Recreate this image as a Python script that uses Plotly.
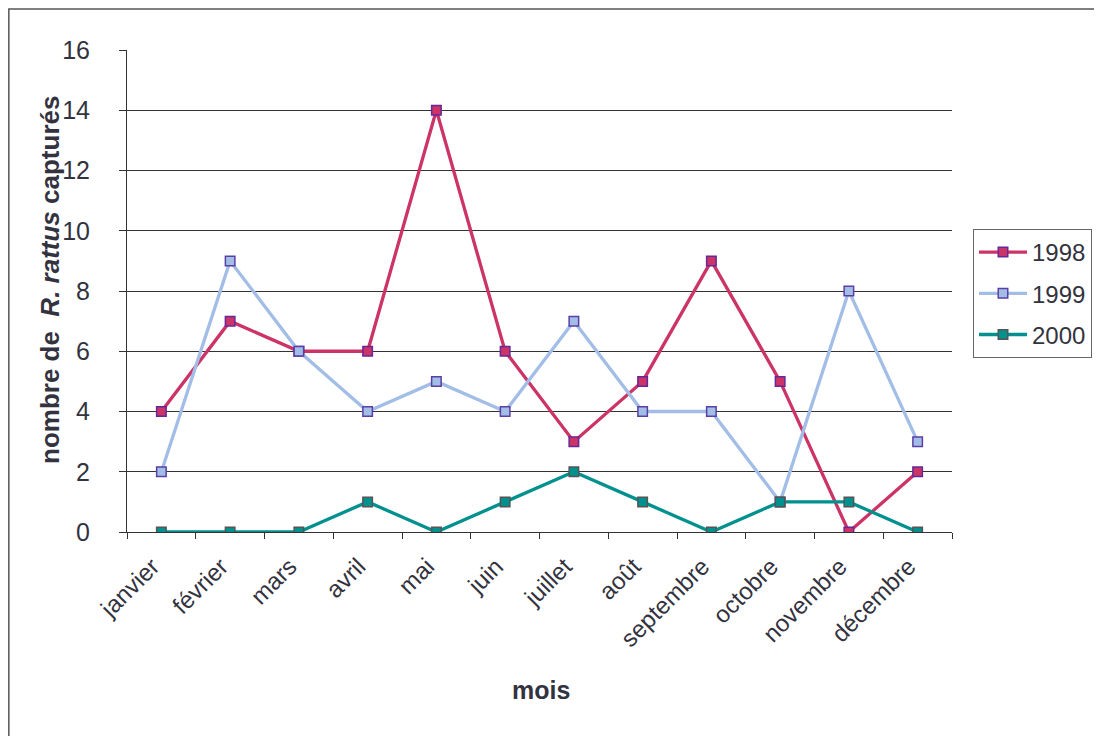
import plotly.graph_objects as go

mois = ["janvier", "février", "mars", "avril", "mai", "juin", "juillet",
        "août", "septembre", "octobre", "novembre", "décembre"]
y1998 = [4, 7, 6, 6, 14, 6, 3, 5, 9, 5, 0, 2]
y1999 = [2, 9, 6, 4, 5, 4, 7, 4, 4, 1, 8, 3]
y2000 = [0, 0, 0, 1, 0, 1, 2, 1, 0, 1, 1, 0]

series = [
    ("1998", y1998, "#CC3366", "#CC3366", "#66279A"),
    ("1999", y1999, "#A3BEE6", "#A3BEE6", "#5B3FA6"),
    ("2000", y2000, "#00918F", "#00918F", "#555555"),
]

fig = go.Figure()
for name, ys, lc, mfill, mline in series:
    fig.add_trace(go.Scatter(
        x=mois, y=ys, name=name, mode="lines+markers", legendgroup=name,
        line=dict(color=lc, width=3.3),
        marker=dict(symbol="square", size=9.5, color=mfill,
                    line=dict(color=mline, width=1.5)),
    ))

font_color = "#333340"
fam = "Liberation Sans, Arial, sans-serif"
W, H = 1094, 728
L, R, T, B = 119, 150, 42, 204
pw, ph = W - L - R, H - T - B

fig.update_layout(
    width=W, height=H,
    margin=dict(l=L, r=R, t=T, b=B, autoexpand=False),
    paper_bgcolor="white", plot_bgcolor="white",
    font=dict(family=fam, size=24, color=font_color),
    showlegend=True,
    legend=dict(x=(973 - 127) / pw, y=(532 - 229) / ph, xanchor="left", yanchor="top",
                bordercolor="#666666", borderwidth=1,
                font=dict(size=24, color=font_color),
                tracegroupgap=7, itemwidth=48),
    xaxis=dict(
        type="category", range=[-0.5, 11.5],
        tickangle=-45, tickson="boundaries", ticks="outside", ticklen=6,
        tickcolor="#333333", showline=True, linecolor="#333333", linewidth=1,
        showgrid=False, tickfont=dict(size=24, color=font_color),
        ticklabelstandoff=10, ticklabelshift=-9,
    ),
    yaxis=dict(
        range=[0, 16], dtick=2, ticks="outside", ticklen=7, tickcolor="#333333",
        showline=True, linecolor="#333333", linewidth=1,
        showgrid=True, gridcolor="#333333", gridwidth=1, zeroline=False,
        tickfont=dict(size=25, color=font_color),
        ticklabelstandoff=24,
    ),
    annotations=[
        dict(text="<b>mois</b>", xref="paper", yref="paper",
             x=(541 - 127) / pw, y=(532 - 690) / ph, xanchor="center", yanchor="middle",
             showarrow=False, font=dict(size=25, color=font_color)),
        dict(text="<b>nombre de  <i>R. rattus</i> capturés</b>", xref="paper", yref="paper",
             x=(50 - 127) / pw, y=(532 - 280) / ph, xanchor="center", yanchor="middle",
             textangle=-90, showarrow=False, font=dict(size=26, color=font_color)),
    ],
    shapes=[dict(type="rect", xref="paper", yref="paper",
                 x0=-L / pw + 0.001, x1=1.3, y0=-0.5, y1=1 + T / ph - 0.002,
                 line=dict(color="#555555", width=1.5), fillcolor="rgba(0,0,0,0)",
                 layer="below")],
)

fig.write_html("out.html")
